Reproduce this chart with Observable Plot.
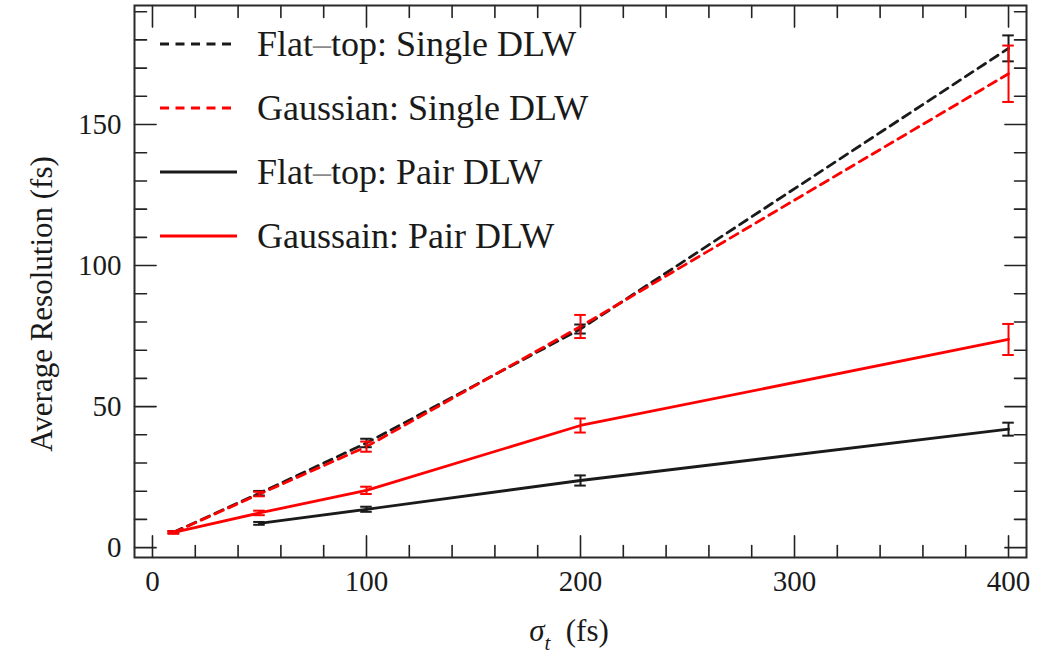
<!DOCTYPE html>
<html><head><meta charset="utf-8">
<script src="https://cdn.jsdelivr.net/npm/d3@7"></script>
<script src="https://cdn.jsdelivr.net/npm/@observablehq/plot@0.6"></script>
<style>
html,body{margin:0;padding:0;background:#fff}
#wrap{position:relative;width:1058px;height:656px;font-family:"Liberation Serif","Times New Roman",serif;color:#1a1a1a;overflow:hidden}
#wrap svg{display:block}
.lab{position:absolute;white-space:nowrap;line-height:1}
</style>
</head><body><div id="wrap"></div>
<script>
// ---- data ----
const sigmaSingle = [10, 50, 100, 200, 400];
const flatSingleMean = [5.5, 19.3, 37.1, 77.5, 177.0];
const flatSingleErr  = [0.4, 0.8, 1.5, 1.6, 4.6];
const gaussSingleMean = [5.4, 19.0, 35.8, 78.4, 168.0];
const gaussSingleErr  = [0.4, 0.8, 1.8, 4.1, 10.0];
const sigmaFlatPair = [50, 100, 200, 400];
const flatPairMean = [8.6, 13.6, 23.8, 42.0];
const flatPairErr  = [0.5, 0.9, 1.8, 2.3];
const sigmaGaussPair = [10, 50, 100, 200, 400];
const gaussPairMean = [5.4, 12.3, 20.3, 43.3, 73.8];
const gaussPairErr  = [0.4, 0.8, 1.3, 2.5, 5.5];

const seriesNames  = ["Flat\u2013top: Single DLW", "Gaussian: Single DLW", "Flat\u2013top: Pair DLW", "Gaussain: Pair DLW"];
const seriesColors = ["#1a1a1a", "#ff0000", "#1a1a1a", "#ff0000"];
const seriesDashed = [true, true, false, false];

const xTickLabels = [0, 100, 200, 300, 400];
const yTickLabels = [0, 50, 100, 150];
const xMinorStep = 20, yMinorStep = 10;

// ---- build tables ----
function rows(xs, ys, es, s) {
  return xs.map((x, i) => ({x, y: ys[i], lo: ys[i] - es[i], hi: ys[i] + es[i], s}));
}
const series = [
  rows(sigmaSingle, flatSingleMean, flatSingleErr, 0),
  rows(sigmaSingle, gaussSingleMean, gaussSingleErr, 1),
  rows(sigmaFlatPair, flatPairMean, flatPairErr, 2),
  rows(sigmaGaussPair, gaussPairMean, gaussPairErr, 3)
];

const xDomain = [-8.4, 408.4], yDomain = [-3.5, 192.2];
const xMinor = d3.range(0, 401, xMinorStep);
const yMinor = d3.range(0, 191, yMinorStep);
const isMajX = d => d % 100 === 0, isMajY = d => d % 50 === 0;
const tickShape = {draw(ctx, l) { ctx.moveTo(0, 0); ctx.lineTo(0, -l); }};
const capHalf = 2.7; // in x data units

function tickMarks() {
  const m = [];
  const common = {anchor: "start", shape: tickShape, stroke: "#222", strokeWidth: 1.6};
  m.push(Plot.vector(xMinor, {x: d => d, frameAnchor: "bottom", rotate: 0, length: d => isMajX(d) ? 9 : 5, ...common}));
  m.push(Plot.vector(xMinor, {x: d => d, frameAnchor: "top", rotate: 180, length: d => isMajX(d) ? 9 : 5, ...common}));
  m.push(Plot.vector(yMinor, {y: d => d, frameAnchor: "left", rotate: 90, length: d => isMajY(d) ? 9 : 5, ...common}));
  m.push(Plot.vector(yMinor, {y: d => d, frameAnchor: "right", rotate: 270, length: d => isMajY(d) ? 9 : 5, ...common}));
  return m;
}

const dataMarks = [];
series.forEach((data, k) => {
  const c = seriesColors[k];
  dataMarks.push(Plot.line(data, {x: "x", y: "y", stroke: c, strokeWidth: 2.8,
    strokeDasharray: seriesDashed[k] ? "9,6" : null}));
});
series.forEach((data, k) => {
  const c = seriesColors[k];
  dataMarks.push(Plot.ruleX(data, {x: "x", y1: "lo", y2: "hi", stroke: c, strokeWidth: 2}));
  dataMarks.push(Plot.ruleY(data, {y: "lo", x1: d => d.x - capHalf, x2: d => d.x + capHalf, stroke: c, strokeWidth: 2}));
  dataMarks.push(Plot.ruleY(data, {y: "hi", x1: d => d.x - capHalf, x2: d => d.x + capHalf, stroke: c, strokeWidth: 2}));
});

const chart = Plot.plot({
  width: 1058, height: 656,
  marginLeft: 134, marginRight: 32, marginTop: 5, marginBottom: 99,
  x: {domain: xDomain},
  y: {domain: yDomain},
  style: {fontFamily: '"Liberation Serif","Times New Roman",serif', fontSize: "29px", color: "#1a1a1a", background: "white", overflow: "visible"},
  marks: [
    ...dataMarks,
    ...tickMarks(),
    Plot.frame({stroke: "#2a2a2a", strokeWidth: 2}),
    Plot.axisX(xTickLabels, {tickSize: 0, tickPadding: 13, label: null}),
    Plot.axisY(yTickLabels, {tickSize: 0, tickPadding: 13, label: null})
  ]
});
const wrap = document.getElementById("wrap");
wrap.appendChild(chart);

// axis titles
const yl = document.createElement("div");
yl.className = "lab";
yl.style.cssText = "left:41px;top:304px;font-size:31px;transform:translate(-50%,-50%) rotate(-90deg);";
yl.textContent = "Average Resolution (fs)";
wrap.appendChild(yl);

const xl = document.createElement("div");
xl.className = "lab";
xl.style.cssText = "left:569px;top:634px;font-size:31px;transform:translate(-50%,-50%);";
xl.innerHTML = '<i>\u03C3</i><sub style="font-size:21px;position:relative;top:2px"><i>t</i></sub>&nbsp;&nbsp;(fs)';
wrap.appendChild(xl);

// legend
const legLineY = [44, 108, 172, 236];
seriesNames.forEach((name, k) => {
  const y = legLineY[k];
  const sw = document.createElementNS("http://www.w3.org/2000/svg", "svg");
  sw.setAttribute("width", 90); sw.setAttribute("height", 10);
  sw.style.cssText = `position:absolute;left:155px;top:${y - 5}px;overflow:visible`;
  const ln = document.createElementNS("http://www.w3.org/2000/svg", "line");
  ln.setAttribute("x1", 5); ln.setAttribute("x2", 82); ln.setAttribute("y1", 5); ln.setAttribute("y2", 5);
  ln.setAttribute("stroke", seriesColors[k]); ln.setAttribute("stroke-width", 3);
  if (seriesDashed[k]) ln.setAttribute("stroke-dasharray", "9,6.5");
  sw.appendChild(ln);
  wrap.appendChild(sw);
  const t = document.createElement("div");
  t.className = "lab";
  t.style.cssText = `left:257px;top:${y - 18}px;font-size:36px;`;
  t.innerHTML = name.replace("\u2013", '<span style="color:#8a8a8a">\u2013</span>');
  wrap.appendChild(t);
});
</script>
</body></html>
